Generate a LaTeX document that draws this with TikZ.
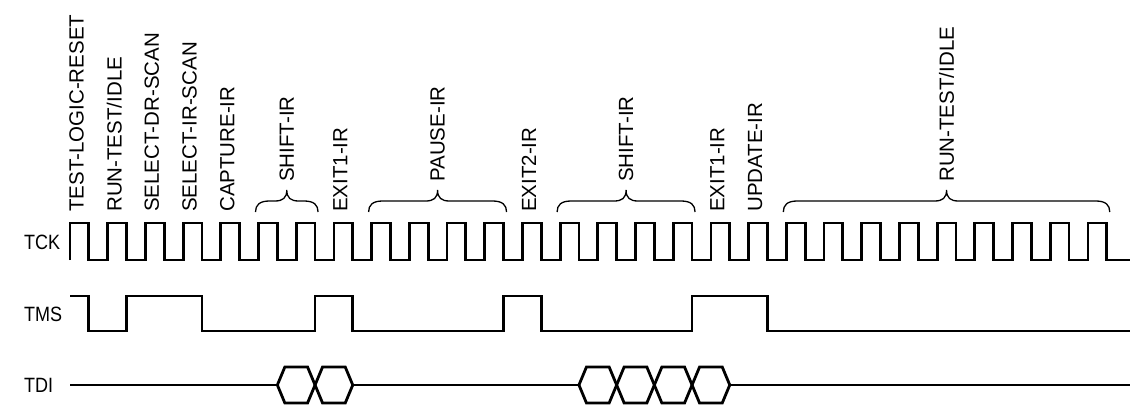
\documentclass[tikz,border=0pt]{standalone}
\usepackage{fontspec}
\setmainfont{Liberation Sans}
\newcommand\mybrace[2]{%
  \pgfmathsetmacro\xa{#1}\pgfmathsetmacro\xb{#2}\pgfmathsetmacro\xm{(#1+#2)/2}%
  \draw[brc] (\xa,193) .. controls (\xa,200) and (\xa+4,204) .. (\xa+14,204)
    -- (\xm-12,204) .. controls (\xm-4,204) and (\xm,207) .. (\xm,215)
    .. controls (\xm,207) and (\xm+4,204) .. (\xm+12,204)
    -- (\xb-14,204) .. controls (\xb-4,204) and (\xb,200) .. (\xb,193);}
\newcommand\hexa[2]{%
  \draw[sig] (#1,20) -- (#1+7.5,38) -- (#2-7.5,38) -- (#2,20) -- (#2-7.5,2) -- (#1+7.5,2) -- cycle;}
\begin{document}
\begin{tikzpicture}[x=1pt,y=1pt,
  sig/.style={line width=2.8pt, line join=miter},
  brc/.style={line width=1.3pt},
  lbl/.style={rotate=90, anchor=west, inner sep=0pt, font=\fontsize{20.5}{24}\selectfont},
  sname/.style={anchor=west, inner sep=0pt, font=\fontsize{18}{21}\selectfont}]
\useasboundingbox (0,0) rectangle (1132,405);
\def\P{37.7}
% TCK clock
\draw[sig] (70,145) foreach \k in {0,...,27}{ -- ({70+\k*\P},182) -- ({88.85+\k*\P},182) -- ({88.85+\k*\P},145) -- ({107.7+\k*\P},145)} -- (1130,145);
% TMS
\draw[sig] (70,109) -- (88.85,109) -- (88.85,74) -- (126.55,74) -- (126.55,109) -- (201.95,109) -- (201.95,74)
  -- (315.05,74) -- (315.05,109) -- (352.75,109) -- (352.75,74) -- (503.55,74) -- (503.55,109)
  -- (541.25,109) -- (541.25,74) -- (692.05,74) -- (692.05,109) -- (767.45,109) -- (767.45,74) -- (1130,74);
% TDI
\draw[sig] (70,20) -- (277.35,20);
\hexa{277.35}{315.05}
\hexa{315.05}{352.75}
\draw[sig] (352.75,20) -- (578.95,20);
\hexa{578.95}{616.65}
\hexa{616.65}{654.35}
\hexa{654.35}{692.05}
\hexa{692.05}{729.75}
\draw[sig] (729.75,20) -- (1130,20);
% signal names
\node[sname] (tck) at (24,163) {\scalebox{1}[1.15]{TCK}};
\node[sname] (tms) at (24,91) {\scalebox{1}[1.15]{TMS}};
\node[sname] (tdi) at (24,20) {\scalebox{1}[1.15]{TDI}};
% state labels
\node[lbl] (s0) at ({70+0*\P+6.5},193) {TEST-LOGIC-RESET};
\node[lbl] (s1) at ({70+1*\P+6.5},193) {RUN-TEST/IDLE};
\node[lbl] (s2) at ({70+2*\P+6.5},193) {SELECT-DR-SCAN};
\node[lbl] (s3) at ({70+3*\P+6.5},193) {SELECT-IR-SCAN};
\node[lbl] (s4) at ({70+4*\P+6.5},193) {CAPTURE-IR};
\node[lbl] (s7) at ({70+7*\P+6.5},193) {EXIT1-IR};
\node[lbl] (s12) at ({70+12*\P+6.5},193) {EXIT2-IR};
\node[lbl] (s17) at ({70+17*\P+6.5},193) {EXIT1-IR};
\node[lbl] (s18) at ({70+18*\P+6.5},193) {UPDATE-IR};
% braces and their labels
\mybrace{255.5}{318.05}
\node[lbl] (b1) at (286.8,223) {SHIFT-IR};
\mybrace{368.6}{506.55}
\node[lbl] (b2) at (437.6,223) {PAUSE-IR};
\mybrace{557.1}{695.05}
\node[lbl] (b3) at (626.1,223) {SHIFT-IR};
\mybrace{783.3}{1109.75}
\node[lbl] (b4) at (946.5,223) {RUN-TEST/IDLE};
\end{tikzpicture}
\end{document}
